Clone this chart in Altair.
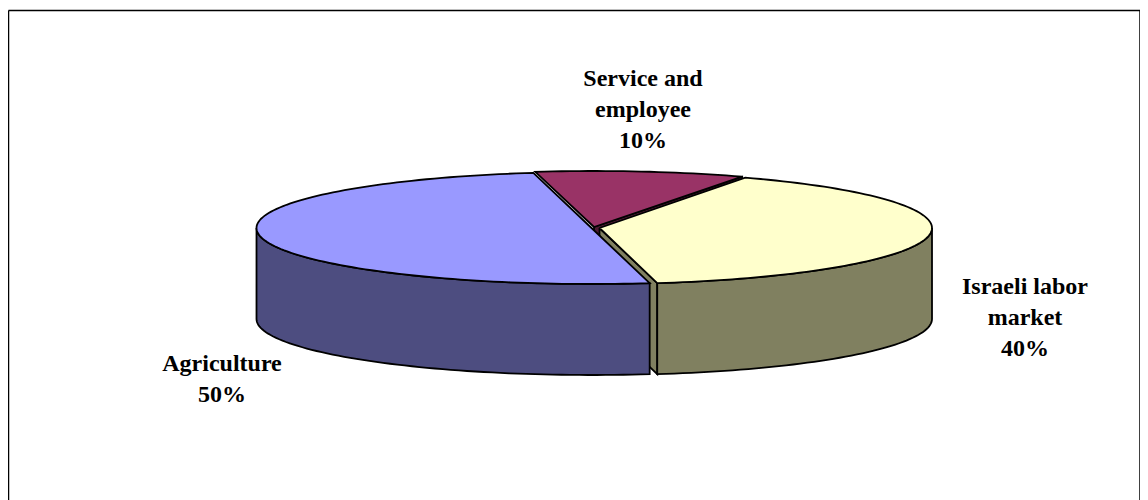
import math
import altair as alt
import pandas as pd

# Chart values
categories = ["Service and employee", "Israeli labor market", "Agriculture"]
shares = [10, 40, 50]
top_colors = ["#993366", "#ffffcc", "#9999ff"]
side_colors = ["#4d1a33", "#808060", "#4d4d80"]
label_lines = [["Service and", "employee", "10%"], ["Israeli labor", "market", "40%"], ["Agriculture", "50%"]]
label_centers = [(643, 79), (1025, 287), (222, 364)]
label_step = 31

# Perspective view of the pie, in the plot's own units
start_angle = 100.0
centers = [(594, 227), (599.5, 228), (591.5, 228)]
radii_x = [338, 332.5, 335]
radius_y = 56
depth = 91
frame_left, frame_right, frame_top, frame_bottom = 8.5, 1140, 10.5, 500


def pt(c, rx, a, dy=0.0):
    r = math.radians(a)
    return (c[0] + rx * math.cos(r), c[1] - radius_y * math.sin(r) + dy)


def arc(c, rx, a0, a1, dy=0.0):
    n = max(2, int(abs(a1 - a0) / 1.5))
    return [pt(c, rx, a0 + (a1 - a0) * k / n, dy) for k in range(n + 1)]


# clockwise sweep from the start angle
angles = []
a = start_angle
for s in shares:
    angles.append((a, a - s * 3.6))
    a -= s * 3.6


def top_poly(i):
    a0, a1 = angles[i]
    c = centers[i]
    return [c] + arc(c, radii_x[i], a0, a1) + [c]


def outer_wall(i, lo, hi):
    c = centers[i]
    return arc(c, radii_x[i], lo, hi) + arc(c, radii_x[i], hi, lo, depth) + [pt(c, radii_x[i], lo)]


def cut_face(i, a):
    c = centers[i]
    e = pt(c, radii_x[i], a)
    return [c, e, (e[0], e[1] + depth), (c[0], c[1] + depth), c]


serv, isr, agr = 0, 1, 2
polys = [
    (cut_face(serv, angles[serv][1]), side_colors[serv]),
    (cut_face(isr, angles[isr][1]), side_colors[isr]),
    (outer_wall(isr, angles[isr][1], 0), side_colors[isr]),
    (top_poly(serv), top_colors[serv]),
    (top_poly(isr), top_colors[isr]),
    (outer_wall(agr, -180, angles[agr][0]), side_colors[agr]),
    (top_poly(agr), top_colors[agr]),
]

X = alt.Scale(domain=[8, 1140], nice=False, zero=False)
Y = alt.Scale(domain=[500, 8], nice=False, zero=False)
x_enc = alt.X("x:Q", scale=X, axis=None)
y_enc = alt.Y("y:Q", scale=Y, axis=None)

layers = []
for pts, col in polys:
    df = pd.DataFrame({"x": [p[0] for p in pts], "y": [p[1] for p in pts], "i": range(len(pts))})
    layers.append(
        alt.Chart(df)
        .mark_line(fill=col, stroke="black", strokeWidth=1.8, strokeJoin="miter", interpolate="linear", clip=False)
        .encode(x=x_enc, y=y_enc, order="i:Q")
    )

# Frame (open at the bottom: it runs past the picture)
frame = pd.DataFrame(
    {
        "x": [frame_left, frame_left, frame_right],
        "x2": [frame_right, frame_left, frame_right],
        "y": [frame_top, frame_top, frame_top],
        "y2": [frame_top, frame_bottom, frame_bottom],
    }
)
layers.insert(
    0,
    alt.Chart(frame)
    .mark_rule(color="black", strokeWidth=1.5)
    .encode(x=x_enc, x2="x2:Q", y=y_enc, y2="y2:Q"),
)

rows = []
for lines, (cx, cy) in zip(label_lines, label_centers):
    for k, t in enumerate(lines):
        rows.append({"x": cx, "y": cy + k * label_step, "t": t})
layers.append(
    alt.Chart(pd.DataFrame(rows))
    .mark_text(font="Liberation Serif", fontWeight="bold", fontSize=24, align="center", baseline="middle", color="black")
    .encode(x=x_enc, y=y_enc, text="t:N")
)

chart = (
    alt.layer(*layers)
    .properties(width=1132, height=492, padding=0, autosize=alt.AutoSizeParams(type="none"), background="white")
    .configure_view(stroke=None)
)
chart.save("out.html", embed_options={"renderer": "svg", "actions": False})
